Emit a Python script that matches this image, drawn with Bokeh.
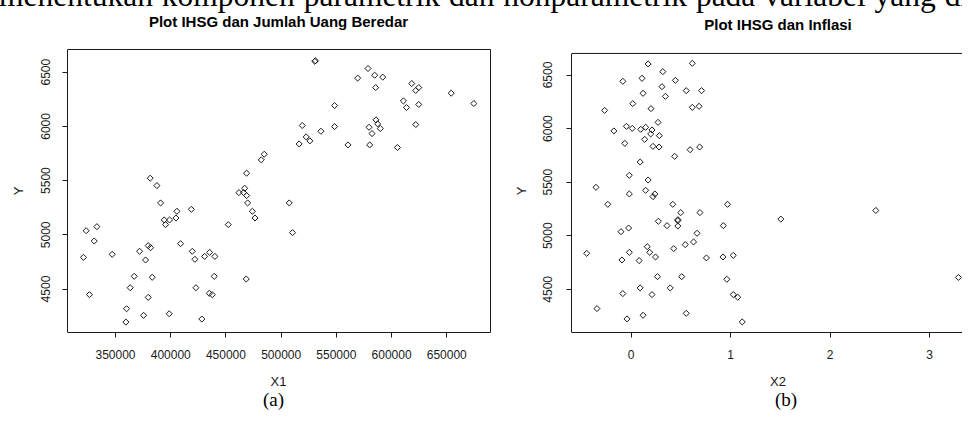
import math
from bokeh.plotting import figure
from bokeh.layouts import row, column
from bokeh.models import FixedTicker, NumeralTickFormatter, Range1d, Div, Span
from bokeh.embed import file_html
from bokeh.resources import INLINE

# ---------------- data ----------------
# Panel (a): IHSG (Y) vs Jumlah Uang Beredar (X1)
x1 = [321000, 323400, 326400, 330700, 333100, 347000, 359400, 360000, 363300, 366900,
      371800, 375400, 377200, 379600, 381700, 379600, 381400, 383200, 387500, 390800,
      394100, 395300, 398900, 398600, 404700, 405600, 408900, 418600, 419500, 421900,
      422800, 428200, 430700, 435200, 434900, 437600, 439400, 440000, 452100, 461800,
      466000, 466900, 468700, 468700, 469600, 473900, 476300, 468400, 482000, 484700,
      507300, 510300, 516300, 519100, 522700, 526000, 530500, 531000, 536000, 548400,
      548400, 560500, 569300, 578700, 579600, 580200, 582300, 584700, 585600, 585900,
      587400, 589800, 592000, 605300, 610700, 613500, 618300, 621900, 624600, 624600,
      621900, 654000, 674500]
y1 = [4792, 5038, 4448, 4943, 5075, 4820, 4195, 4318, 4512, 4617,
      4848, 4257, 4768, 4900, 4881, 4423, 5522, 4608, 5454, 5294,
      5137, 5094, 5137, 4272, 5155, 5217, 4918, 5235, 4848, 4774,
      4512, 4223, 4801, 4838, 4460, 4448, 4617, 4801, 5094, 5389,
      5389, 5429, 5568, 5362, 5294, 5217, 5155, 4592, 5691, 5743,
      5294, 5020, 5838, 6008, 5903, 5866, 6600, 6605, 5955, 6192,
      5998, 5829, 6445, 6534, 5992, 5829, 5934, 6472, 6358, 6060,
      6023, 5980, 6454, 5805, 6235, 6174, 6395, 6331, 6358, 6202,
      6017, 6306, 6211]

# Panel (b): IHSG (Y) vs Inflasi (X2)
x2 = [0.170, 0.614, 0.318, -0.084, 0.109, 0.444, 0.309, 0.553, 0.707, 0.119,
      0.344, 0.016, 0.199, 0.614, 0.682, -0.267, 0.270, -0.048, 0.010, 0.096,
      0.145, 0.209, 0.196, 0.283, -0.174, -0.064, 0.135, 0.219, 0.280, 0.592,
      0.688, 0.437, 0.090, -0.019, 0.170, -0.354, -0.019, 0.145, 0.238, 0.219,
      -0.235, 0.418, 0.968, 0.498, 0.691, 0.273, 0.469, 0.469, 0.360, 0.469,
      0.926, -0.103, -0.026, 0.662, 0.627, 0.543, 0.161, 0.428, 0.186, -0.019,
      -0.447, 0.244, -0.093, 0.080, 0.756, 0.923, 1.026, 0.264, 0.508, 0.961,
      0.090, 0.392, -0.084, 0.209, 1.026, 1.071, -0.344, -0.042, 0.119, 0.553,
      1.116, 1.504, 2.459, 3.289]
y2 = [6603, 6609, 6531, 6441, 6469, 6450, 6391, 6354, 6354, 6329,
      6301, 6233, 6186, 6198, 6208, 6170, 6058, 6021, 6002, 5993,
      6012, 5987, 5950, 5934, 5978, 5862, 5900, 5834, 5828, 5803,
      5828, 5741, 5688, 5564, 5520, 5452, 5390, 5424, 5390, 5365,
      5293, 5293, 5293, 5216, 5216, 5135, 5150, 5141, 5094, 5091,
      5094, 5038, 5072, 5023, 4942, 4917, 4898, 4880, 4845, 4845,
      4836, 4802, 4774, 4768, 4793, 4802, 4817, 4618, 4618, 4594,
      4513, 4513, 4460, 4451, 4451, 4426, 4320, 4224, 4258, 4276,
      4196, 5155, 5236, 4611]

x1_ticks = [350000, 400000, 450000, 500000, 550000, 600000, 650000]
x2_ticks = [0, 1, 2, 3]
y_ticks = [4500, 5000, 5500, 6000, 6500]

title_a = "Plot IHSG dan Jumlah Uang Beredar"
title_b = "Plot IHSG dan Inflasi"
xlabel_a = "X1"
xlabel_b = "X2"
ylabel = "Y"
top_text = "menentukan komponen parametrik dan nonparametrik pada variabel yang dig"
caption_a = "(a)"
caption_b = "(b)"

# ---------------- layout constants (pixels) ----------------
W = 962
TOP_H = 34          # header strip (cropped sentence + panel titles)
BOT_H = 40          # footer strip (x-axis titles + captions)
FIG_H = 410 - TOP_H - BOT_H
FRAME_TOP = 49
FRAME_BOTTOM = 332
SANS = "Liberation Sans"
SERIF = "Liberation Serif"
INK = "#1a1a1a"


def make_panel(width, page_left, fl, fr, xr, yr, xticks, full_box,
               ytick_standoff, ylabel_standoff, xfmt=None, ybounds="auto"):
    p = figure(width=width, height=FIG_H, x_range=Range1d(*xr), y_range=Range1d(*yr),
               title=None, output_backend="svg", toolbar_location=None,
               min_border_left=fl - page_left, min_border_right=(page_left + width) - fr,
               min_border_top=FRAME_TOP - TOP_H,
               min_border_bottom=(TOP_H + FIG_H) - FRAME_BOTTOM)
    p.grid.visible = False
    p.background_fill_color = "white"
    p.border_fill_color = "white"
    p.outline_line_color = INK if full_box else None
    p.outline_line_width = 1

    for ax in (p.xaxis[0], p.yaxis[0]):
        ax.major_tick_out = 5
        ax.major_tick_in = 0
        ax.minor_tick_out = 0
        ax.minor_tick_in = 0
        ax.major_tick_line_color = INK
        ax.axis_line_color = None if full_box else INK
        ax.major_label_text_font = SANS
        ax.major_label_text_font_size = "12px"
        ax.major_label_text_color = INK
    p.xaxis[0].major_label_standoff = 12
    p.yaxis[0].major_label_standoff = ytick_standoff
    p.xaxis[0].ticker = FixedTicker(ticks=xticks)
    if xfmt is not None:
        p.xaxis[0].formatter = xfmt
    p.yaxis[0].ticker = FixedTicker(ticks=y_ticks)
    p.yaxis[0].bounds = ybounds
    p.yaxis[0].major_label_orientation = "vertical"
    p.yaxis[0].axis_label = ylabel
    p.yaxis[0].axis_label_text_font = SANS
    p.yaxis[0].axis_label_text_font_size = "13px"
    p.yaxis[0].axis_label_text_font_style = "normal"
    p.yaxis[0].axis_label_text_color = INK
    p.yaxis[0].axis_label_standoff = ylabel_standoff
    return p


def abs_text(text, x, baseline, font, size, weight="normal", align="center",
             extra="", color=INK):
    lh = size
    k = 0.3465 if font == SANS else 0.3375
    top = baseline - (lh / 2 + k * size)
    if align == "center":
        left, width, ta = x - 200, 400, "center"
    else:
        left, width, ta = x, 1100, "left"
    return ('<div style="position:absolute;left:%.1fpx;top:%.1fpx;width:%dpx;'
            'text-align:%s;font-family:\'%s\';font-size:%spx;font-weight:%s;'
            'line-height:%spx;white-space:nowrap;color:%s;%s">%s</div>'
            % (left, top, width, ta, font, size, weight, lh, color, extra, text))


def strip(height, y0, items):
    inner = "".join(abs_text(t, x, b - y0, f, s, **kw) for (t, x, b, f, s, kw) in items)
    html = ('<div style="position:relative;width:%dpx;height:%dpx;overflow:hidden;">%s</div>'
            % (W, height, inner))
    return Div(text=html, width=W, height=height, margin=0)


# ---------------- panel (a) ----------------
pa = make_panel(502, 0, 67, 490, (306500, 689600), (4099, 6709), x1_ticks, True,
                12, 13, xfmt=NumeralTickFormatter(format="0"))
pa.scatter(x1, y1, marker="square", size=4.3, angle=math.pi / 4,
           fill_color=None, line_color=INK, line_width=1)

# ---------------- panel (b) (box open on the right, as cropped in the source) ----------------
YB = (4097, 6701)
pb = make_panel(460, 502, 571, 962, (-0.6, 3.33), (4097, 6738), x2_ticks, False,
                14, 12, ybounds=YB)
pb.add_layout(Span(location=YB[1], dimension="width", line_color=INK, line_width=1))
pb.scatter(x2, y2, marker="square", size=4.3, angle=math.pi / 4,
           fill_color=None, line_color=INK, line_width=1)

# ---------------- header / footer text strips ----------------
header = strip(TOP_H, 0, [
    (top_text, -1, 6.5, SERIF, 31.5, {"align": "left", "extra": "word-spacing:1px;", "color": "#000"}),
    (title_a, 278.5, 26.5, SANS, 15, {"weight": "bold", "color": "#000"}),
    (title_b, 778, 30, SANS, 15, {"weight": "bold", "color": "#000"}),
])
footer = strip(BOT_H, TOP_H + FIG_H, [
    (xlabel_a, 278.5, 386, SANS, 13, {}),
    (xlabel_b, 778, 385.5, SANS, 13, {}),
    (caption_a, 273.5, 405.8, SERIF, 19, {"color": "#000"}),
    (caption_b, 786, 405.8, SERIF, 19, {"color": "#000"}),
])

layout = column(header, row(pa, pb, spacing=0), footer, spacing=0)
open("out.html", "w").write(file_html(layout, INLINE))
